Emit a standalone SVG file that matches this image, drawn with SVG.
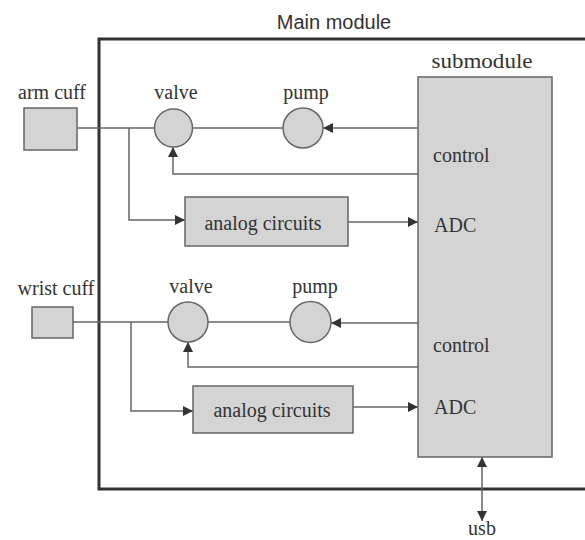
<svg xmlns="http://www.w3.org/2000/svg" width="585" height="540" viewBox="0 0 585 540">
<defs>
<style>
.box{fill:#d4d4d4;stroke:#666;stroke-width:1.5}
.ln{fill:none;stroke:#666;stroke-width:1.5}
.t{font-family:"Liberation Serif","Times New Roman",serif;font-size:20px;fill:#333}
.c{text-anchor:middle}
</style>
<marker id="ah" viewBox="0 0 10 10" refX="10" refY="5" markerWidth="10" markerHeight="10" markerUnits="userSpaceOnUse" orient="auto-start-reverse">
<path d="M0,0 L10,5 L0,10 z" fill="#333"/>
</marker>
</defs>
<rect width="585" height="540" fill="#fff"/>
<g id="main-module">
<rect x="99" y="39" width="495" height="450" fill="none" stroke="#333" stroke-width="3"/>
<text x="334" y="29" text-anchor="middle" font-family="Liberation Sans,Arial,sans-serif" font-size="20" fill="#333">Main module</text>
</g>
<g id="connectors">
<path class="ln" d="M77,128 H155"/>
<path class="ln" d="M192,128 H283"/>
<path class="ln" d="M418,128 H323" marker-end="url(#ah)"/>
<path class="ln" d="M418,174 H173 V147" marker-end="url(#ah)"/>
<path class="ln" d="M129,128 V220 H185" marker-end="url(#ah)"/>
<path class="ln" d="M348,222 H418" marker-end="url(#ah)"/>
<path class="ln" d="M73,322 H168"/>
<path class="ln" d="M208,322 H290"/>
<path class="ln" d="M418,323 H331" marker-end="url(#ah)"/>
<path class="ln" d="M418,367 H188 V342" marker-end="url(#ah)"/>
<path class="ln" d="M131,322 V411 H193" marker-end="url(#ah)"/>
<path class="ln" d="M353,407 H418" marker-end="url(#ah)"/>
<path class="ln" d="M482,457 V521" marker-start="url(#ah)" marker-end="url(#ah)"/>
</g>
<g id="arm-cuff">
<rect class="box" x="24" y="108" width="53" height="42"/>
<text class="t c" x="52" y="99" font-size="21">arm cuff</text>
</g>
<g id="valve1">
<circle class="box" cx="173.5" cy="128" r="19"/>
<text class="t c" x="176" y="99">valve</text>
</g>
<g id="pump1">
<circle class="box" cx="303" cy="128" r="20"/>
<text class="t c" x="306" y="99">pump</text>
</g>
<g id="analog1">
<rect class="box" x="185" y="197" width="163" height="49"/>
<text class="t c" x="263" y="230">analog circuits</text>
</g>
<g id="wrist-cuff">
<rect class="box" x="32" y="307" width="41" height="31"/>
<text class="t c" x="56" y="295" font-size="21">wrist cuff</text>
</g>
<g id="valve2">
<circle class="box" cx="188" cy="322" r="20"/>
<text class="t c" x="191" y="293">valve</text>
</g>
<g id="pump2">
<circle class="box" cx="310.5" cy="322" r="20.5"/>
<text class="t c" x="315" y="293">pump</text>
</g>
<g id="analog2">
<rect class="box" x="193" y="386" width="160" height="47"/>
<text class="t c" x="272" y="417">analog circuits</text>
</g>
<g id="submodule">
<rect class="box" x="418" y="77" width="134" height="380"/>
<text class="t c" x="482" y="68" font-size="22" textLength="101" lengthAdjust="spacingAndGlyphs">submodule</text>
<text class="t" x="433" y="162">control</text>
<text class="t" x="434" y="232">ADC</text>
<text class="t" x="433" y="352">control</text>
<text class="t" x="434" y="414">ADC</text>
</g>
<g id="usb">
<text class="t c" x="482" y="535">usb</text>
</g>
</svg>
